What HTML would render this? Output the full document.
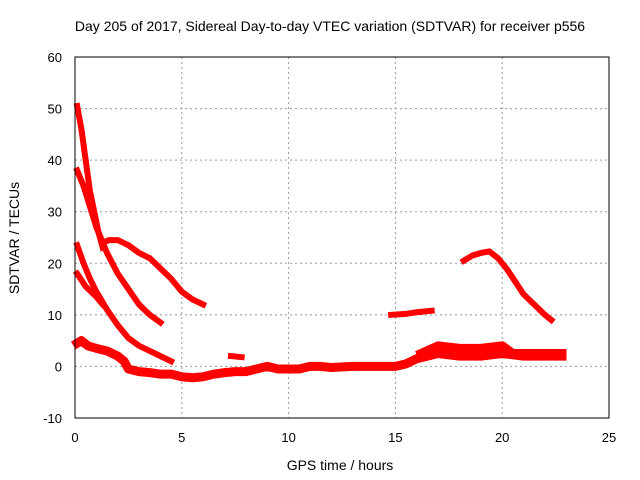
<!DOCTYPE html>
<html><head><meta charset="utf-8"><style>
body{margin:0;background:#fff}
svg{display:block;font-family:"Liberation Sans",sans-serif}
</style></head><body>
<svg id="c" width="640" height="480">
<text x="330" y="31" font-size="14" text-anchor="middle">Day 205 of 2017, Sidereal Day-to-day VTEC variation (SDTVAR) for receiver p556</text>
<text x="340" y="470" font-size="14" text-anchor="middle">GPS time / hours</text>
<text x="19" y="238" font-size="14" text-anchor="middle" transform="rotate(-90 19 238)">SDTVAR / TECUs</text>
<g id="grid"></g><g id="ticks"></g><g id="series"></g>
<rect x="75" y="57" width="534" height="361" fill="none" stroke="#000" stroke-width="1"/>
</svg>
<script>
const xTicks=[0,5,10,15,20,25];
const yTicks=[-10,0,10,20,30,40,50,60];
const s1=[[0.1,50.5],[0.3,46],[0.5,40],[0.7,34],[0.9,30],[1.1,26],[1.3,23]];
const s2=[[0.1,38],[0.4,35],[0.7,31],[1,27],[1.5,22],[2,18],[2.5,15],[3,12],[3.5,10],[4,8.5]];
const s3=[[1.3,24],[1.6,24.5],[2,24.5],[2.5,23.5],[3,22],[3.5,21],[4,19],[4.5,17],[5,14.5],[5.5,13],[6,12]];
const s4=[[0.1,23.5],[0.4,20],[0.7,17],[1,14.5],[1.5,11],[2,8],[2.5,5.5],[3,4],[3.5,3],[4,2],[4.5,1]];
const s5=[[0.1,18],[0.5,15.5],[1,13.5],[1.3,12]];
const s6=[[0.1,4.5],[0.3,5],[0.6,4],[1,3.5],[1.5,3],[2,2],[2.3,1],[2.5,-0.5],[3,-1],[3.5,-1.2],[4,-1.5],[4.5,-1.5],[5,-2],[5.5,-2.2],[6,-2],[6.5,-1.5],[7,-1.2],[7.5,-1],[8,-1],[8.5,-0.5],[9,0],[9.5,-0.5],[10,-0.5],[10.5,-0.5],[11,0],[11.5,0],[12,-0.2],[13,0],[14,0],[15,0],[15.5,0.5],[16,1.5],[16.5,2],[17,2.5],[18,2],[19,2],[20,2.5],[21,2],[22,2],[22.8,2]];
const s7=[[16.2,2.5],[17,4],[18,3.5],[19,3.5],[20,4],[20.5,2.5],[21.5,2.5],[22.8,2.5]];
const s8=[[7.3,2],[7.8,1.8]];
const s9=[[14.8,10],[15.5,10.2],[16,10.5],[16.7,10.8]];
const s10=[[18.2,20.5],[18.6,21.5],[19,22],[19.4,22.3],[19.8,21],[20.2,19],[20.6,16.5],[21,14],[21.5,12],[22,10],[22.3,9]];
const allSeries=[s1,s2,s3,s4,s5,s6,s7,s8,s9,s10];
const X=v=>75+(v-0)*534/25, Y=v=>418-(v+10)*361/70;
const NS="http://www.w3.org/2000/svg";
const g=document.getElementById('grid'),t=document.getElementById('ticks'),sg=document.getElementById('series');
function mk(p,tag,a){const e=document.createElementNS(NS,tag);for(const k in a)e.setAttribute(k,a[k]);p.appendChild(e);return e;}
xTicks.forEach(v=>{
 if(v>0&&v<25){const l=mk(g,'line',{x1:X(v),x2:X(v),y1:57,y2:418,stroke:'#999','stroke-dasharray':'2,3'});
 
 }
 const tx=mk(t,'text',{x:X(v),y:442,'font-size':13,'text-anchor':'middle'});tx.textContent=v;
 
 
});
yTicks.forEach(v=>{
 if(v>-10&&v<60){const l=mk(g,'line',{x1:75,x2:609,y1:Y(v),y2:Y(v),stroke:'#999','stroke-dasharray':'2,3'});
 
 }
 const tx=mk(t,'text',{x:62,y:Y(v)+5,'font-size':13,'text-anchor':'end'});tx.textContent=v;
 
 
});
allSeries.forEach((s,i)=>{
 const pl=mk(sg,'polyline',{points:s.map(p=>X(p[0])+','+Y(p[1])).join(' '),fill:'none',stroke:'#f00','stroke-width':(i===5||i===6)?9:6,'stroke-linejoin':'round','stroke-linecap':'square'});
 
 
});
</script>
</body></html>
